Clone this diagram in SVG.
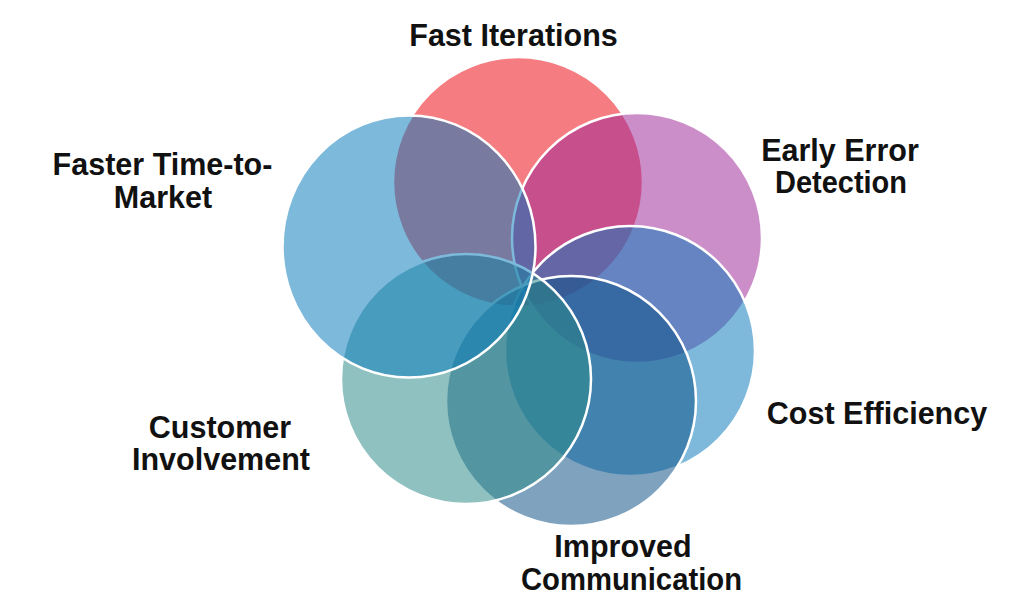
<svg xmlns="http://www.w3.org/2000/svg" width="1024" height="609" viewBox="0 0 1024 609">
<style>
.c{fill-opacity:0.53;stroke:#ffffff;stroke-width:2.5}
.t{font-family:"Liberation Sans",Arial,sans-serif;font-weight:bold;font-size:30.5px;fill:#111111;text-anchor:middle}
</style>
<rect width="1024" height="609" fill="#ffffff"/>
<g id="node-fast-iterations">
<circle class="c" cx="518" cy="182" r="125" fill="#ec080f"/>
<text class="t" x="513.5" y="45.5">Fast Iterations</text>
</g>
<g id="node-early-error-detection">
<circle class="c" cx="637" cy="238" r="125" fill="#9f2a97"/>
<text class="t" x="840" y="160.5">Early Error</text>
<text class="t" x="841" y="193" textLength="132" lengthAdjust="spacingAndGlyphs">Detection</text>
</g>
<g id="node-cost-efficiency">
<circle class="c" cx="630" cy="351" r="125" fill="#0c7bbd"/>
<text class="t" x="877" y="424">Cost Efficiency</text>
</g>
<g id="node-improved-communication">
<circle class="c" cx="571" cy="401" r="125" fill="#0d5186"/>
<text class="t" x="623" y="557">Improved</text>
<text class="t" x="631.5" y="589.5" textLength="221" lengthAdjust="spacingAndGlyphs">Communication</text>
</g>
<g id="node-customer-involvement">
<circle class="c" cx="466" cy="379" r="125" fill="#2c8a88"/>
<text class="t" x="220" y="437.5">Customer</text>
<text class="t" x="221" y="470">Involvement</text>
</g>
<g id="node-faster-time-to-market">
<ellipse class="c" cx="409" cy="246.5" rx="126.5" ry="131" fill="#0a7bbb"/>
<text class="t" x="162.5" y="175">Faster Time-to-</text>
<text class="t" x="163" y="207.5">Market</text>
</g>
<g id="connectors"></g>
</svg>
